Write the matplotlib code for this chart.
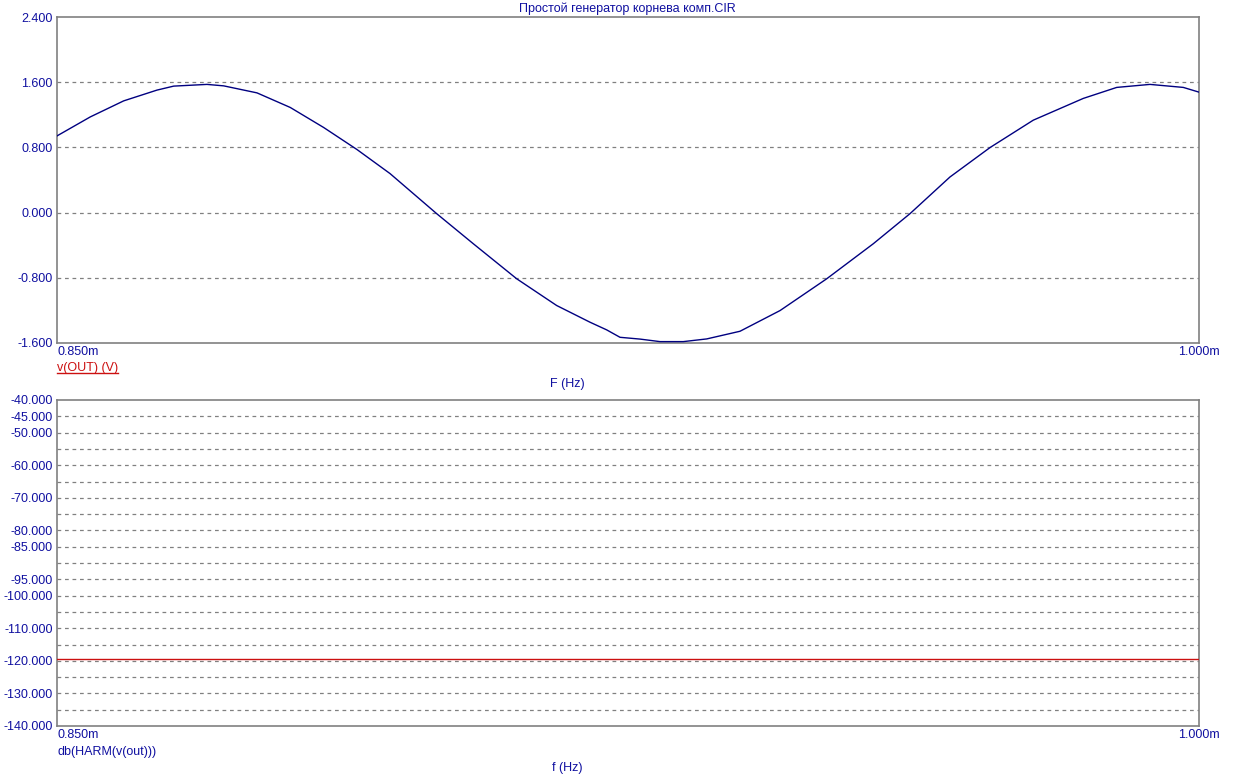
import matplotlib.pyplot as plt
from matplotlib.lines import Line2D

plt.rcParams['font.family'] = ['Liberation Sans', 'DejaVu Sans']

# ── Data ─────────────────────────────────────────────────────────────────────
# time axis in ms (labels show "m"), V(OUT) in volts
t_ms = [0.8500, 0.85437, 0.85876, 0.86313, 0.86533, 0.86970, 0.87190, 0.87627,
        0.88064, 0.88503, 0.88940, 0.89374, 0.89987, 0.90468, 0.91038, 0.91563,
        0.92001, 0.92220, 0.92395, 0.92658, 0.92920, 0.93226, 0.93534, 0.93971,
        0.94497, 0.95110, 0.95722, 0.96204, 0.96729, 0.97255, 0.97823, 0.98480,
        0.98919, 0.99356, 0.99794, 1.0000]
v_out = [0.941, 1.174, 1.371, 1.503, 1.552, 1.573, 1.555, 1.469,
         1.290, 1.044, 0.774, 0.479, -0.013, -0.382, -0.812, -1.140,
         -1.345, -1.439, -1.530, -1.552, -1.583, -1.583, -1.550, -1.456,
         -1.202, -0.812, -0.382, -0.013, 0.437, 0.798, 1.134, 1.401,
         1.536, 1.573, 1.536, 1.478]

harm_t = [0.85, 1.0]
harm_db = [-119.4, -119.4]

top_ticks = [-1.6, -0.8, 0.0, 0.8, 1.6, 2.4]
bot_grid = list(range(-135, -40, 5))
bot_labels = [-40, -45, -50, -60, -70, -80, -85, -95, -100, -110, -120, -130, -140]
x_ticks = [0.85, 1.0]
x_ticklabels = ["0.850m", "1.000m"]

BLUE = "#1010A0"
LINE = "#000080"
RED = "#CC1010"
GREY = "#808080"
W, H = 1234, 781

fig = plt.figure(figsize=(W / 100, H / 100), dpi=100)
fig.patch.set_facecolor("white")

ax1 = fig.add_axes([57 / W, 1 - 343 / H, (1199 - 57) / W, (343 - 17) / H])
ax2 = fig.add_axes([57 / W, 1 - 726 / H, (1199 - 57) / W, (726 - 400) / H])


def style(ax, ylim, grid_vals, label_vals, fmt):
    ax.set_xlim(0.85, 1.0)
    ax.set_ylim(*ylim)
    for s in ax.spines.values():
        s.set_color(GREY)
        s.set_linewidth(1.2)
    for g in grid_vals:
        ax.axhline(g, color=GREY, linestyle=(0, (3, 3)), linewidth=0.9, zorder=1)
    ax.set_yticks(label_vals)
    ax.set_yticklabels([fmt.format(v) for v in label_vals])
    ax.set_xticks(x_ticks)
    ax.set_xticklabels(x_ticklabels)
    ax.tick_params(length=0, labelsize=9, labelcolor=BLUE, pad=3)
    ax.tick_params(axis="x", pad=2)
    labs = ax.get_xticklabels()
    labs[0].set_ha("left")
    labs[1].set_ha("center")


# ── Top: transient ──────────────────────────────────────────────────────────
style(ax1, (-1.6, 2.4), [-0.8, 0.0, 0.8, 1.6], top_ticks, "{:.3f}")
ax1.plot(t_ms, v_out, color=LINE, linewidth=1.0, zorder=3)
fig.text(627 / W, 1 - 9 / H, "Простой генератор корнева комп.CIR",
         ha="center", va="center", fontsize=9, color=BLUE)
lbl = fig.text(57 / W, 1 - 368 / H, "v(OUT) (V)", ha="left", va="center",
               fontsize=9, color=RED)
fig.text(567 / W, 1 - 384 / H, "F (Hz)", ha="center", va="center",
         fontsize=9, color=BLUE)

# ── Bottom: harmonics ───────────────────────────────────────────────────────
style(ax2, (-140, -40), bot_grid, bot_labels, "{:.3f}")
ax2.plot(harm_t, harm_db, color=RED, linewidth=1.0, zorder=3)
fig.text(57 / W, 1 - 752 / H, "db(HARM(v(out)))", ha="left", va="center",
         fontsize=9, color=BLUE)
fig.text(567 / W, 1 - 768 / H, "f (Hz)", ha="center", va="center",
         fontsize=9, color=BLUE)

# underline the trace label
fig.canvas.draw()
bb = lbl.get_window_extent().transformed(fig.transFigure.inverted())
fig.add_artist(Line2D([bb.x0, bb.x1], [bb.y0 + 0.001, bb.y0 + 0.001],
                      color=RED, linewidth=1.0, transform=fig.transFigure))

fig.savefig("out.png", dpi=100, facecolor="white")
plt.close(fig)
